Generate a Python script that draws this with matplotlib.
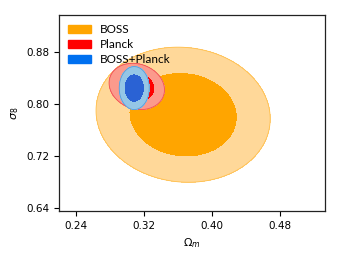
import numpy as np
import matplotlib
matplotlib.use("Agg")
import matplotlib.pyplot as plt
from matplotlib.patches import Patch

# Gaussian approximations of the posteriors
names = ["BOSS", "Planck", "BOSS+Planck"]
om_mean = [0.366, 0.3115, 0.3085]
s8_mean = [0.783, 0.8265, 0.824]
om_sigma = [0.0412, 0.0131, 0.0071]
s8_sigma = [0.0418, 0.0143, 0.0133]
corr = [-0.06, -0.15, 0.0]

# colours: (outer 95%, inner 68%, legend)
fill_outer = ["#ffd899", "#fb9a8c", "#94c6e6"]
fill_inner = ["#ffa500", "#ff0000", "#2a62d4"]
edge_col = ["#ffc04d", "#f25050", "#5a9ad8"]
legend_col = ["#ffa500", "#ff0000", "#0070f0"]

levels = [2.30, 6.18]  # delta chi2 for 68% / 95% in 2D

fig = plt.figure(figsize=(3.39, 2.62), dpi=100)
ax = fig.add_axes([0.174, 0.195, 0.785, 0.748])

xx, yy = np.meshgrid(np.linspace(0.21, 0.54, 500), np.linspace(0.62, 0.95, 500))

for i in range(len(names)):
    sx, sy, r = om_sigma[i], s8_sigma[i], corr[i]
    cov = np.array([[sx**2, r*sx*sy], [r*sx*sy, sy**2]])
    inv = np.linalg.inv(cov)
    dx = xx - om_mean[i]
    dy = yy - s8_mean[i]
    chi2 = inv[0, 0]*dx**2 + 2*inv[0, 1]*dx*dy + inv[1, 1]*dy**2
    ax.contourf(xx, yy, chi2, levels=[0, levels[1]], colors=[fill_outer[i]], zorder=2*i+1)
    ax.contour(xx, yy, chi2, levels=[levels[1]], colors=[edge_col[i]], linewidths=0.6, zorder=2*i+1)
    ax.contourf(xx, yy, chi2, levels=[0, levels[0]], colors=[fill_inner[i]], zorder=2*i+2)

ax.set_xlim(0.22, 0.533)
ax.set_ylim(0.635, 0.9365)
ax.set_xticks([0.24, 0.32, 0.40, 0.48])
ax.set_yticks([0.64, 0.72, 0.80, 0.88])
ax.tick_params(labelsize=7.5, length=3.5, width=0.8, top=False, right=False)
ax.set_xlabel(r"$\Omega_m$", fontsize=8)
ax.set_ylabel(r"$\sigma_8$", fontsize=8)
for s in ax.spines.values():
    s.set_linewidth(0.9)
    s.set_color("#222222")

handles = [Patch(facecolor=c, edgecolor=c) for c in legend_col]
ax.legend(handles, names, loc="upper left", frameon=False,
          handlelength=2.0, handleheight=0.7, handletextpad=0.75,
          labelspacing=0.35, borderaxespad=0.35, prop={"family": "Lato", "size": 8.5})

fig.savefig("out.png", dpi=100)
